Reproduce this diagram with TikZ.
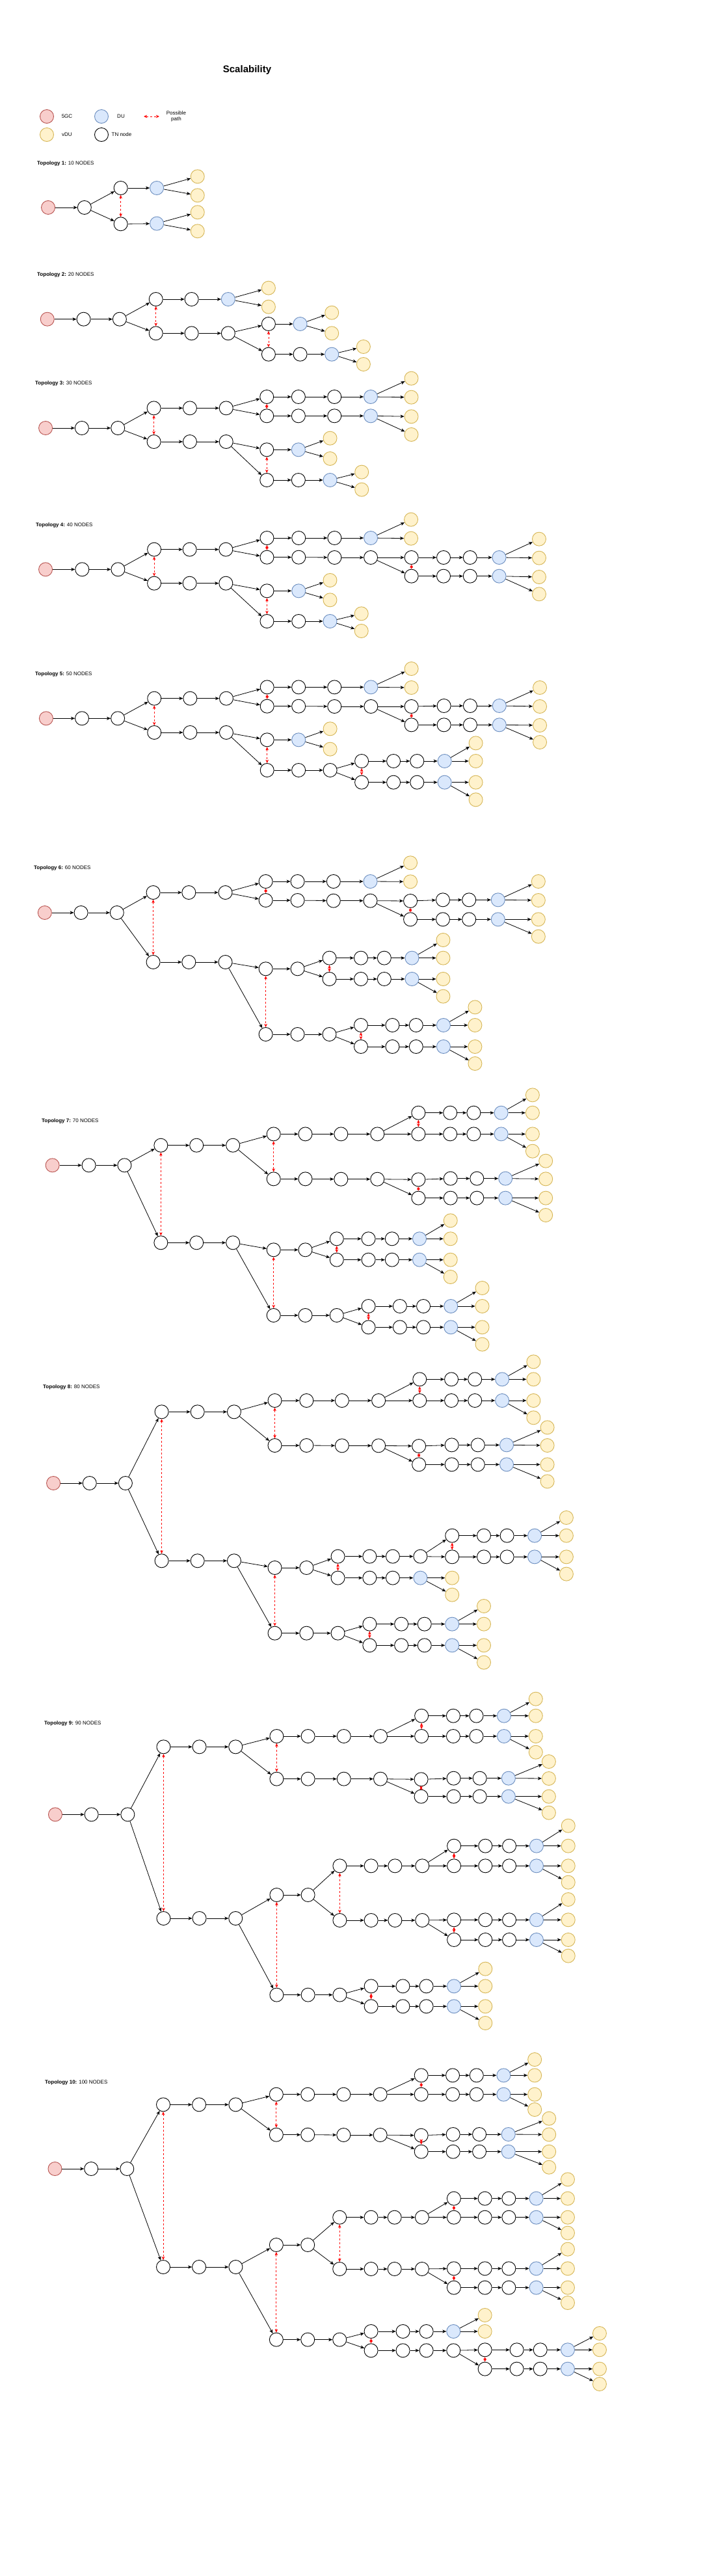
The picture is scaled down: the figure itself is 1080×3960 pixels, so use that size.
\documentclass[tikz,border=0pt]{standalone}
\usepackage{fontspec}
\setmainfont{Liberation Sans}
\usetikzlibrary{arrows.meta}
\definecolor{gcfill}{HTML}{F8CECC}
\definecolor{gcline}{HTML}{B85450}
\definecolor{dufill}{HTML}{DAE8FC}
\definecolor{duline}{HTML}{6C8EBF}
\definecolor{vdfill}{HTML}{FFF2CC}
\definecolor{vdline}{HTML}{D6B656}
\tikzset{
 basenode/.style={circle, minimum size=21pt, inner sep=0pt, line width=0.9pt},
 tnn/.style={basenode, draw=black, fill=white},
 gcn/.style={basenode, draw=gcline, fill=gcfill},
 dun/.style={basenode, draw=duline, fill=dufill},
 vdn/.style={basenode, draw=vdline, fill=vdfill},
 linkarrow/.style={draw=black, line width=0.8pt, -{Stealth[length=6pt,width=5pt,inset=1.5pt]}},
 altpath/.style={draw=red, line width=0.8pt, dash pattern=on 3pt off 3pt, {Stealth[length=5pt,width=4.5pt,inset=1.2pt]}-{Stealth[length=5pt,width=4.5pt,inset=1.2pt]}},
 lbl/.style={font=\fontsize{8}{9.5}\selectfont, inner sep=0pt},
}
\def\tpfx{t0}
\newcommand\nT[3]{\node[tnn] (\tpfx#1) at (#2,#3) {};}
\newcommand\nG[3]{\node[gcn] (\tpfx#1) at (#2,#3) {};}
\newcommand\nD[3]{\node[dun] (\tpfx#1) at (#2,#3) {};}
\newcommand\nV[3]{\node[vdn] (\tpfx#1) at (#2,#3) {};}
\newcommand\links[1]{\foreach \a/\b in {#1} {\draw[linkarrow] (\tpfx\a) -- (\tpfx\b);}}
\newcommand\alts[1]{\foreach \a/\b in {#1} {\draw[altpath] (\tpfx\a) -- (\tpfx\b);}}
\newcommand\branch[1]{\links{#11/#12,#12/#13,#13/#1d,#1d/#1v1,#1d/#1v2}}
\begin{document}
\begin{tikzpicture}[x=1pt,y=-1pt]
\useasboundingbox[fill=white] (0,0) rectangle (1080,3960);
% header and legend
\node[font=\bfseries\fontsize{15}{18}\selectfont, inner sep=0pt] (title) at (380,108) {Scalability};
\node[gcn] (lg5gc) at (72,179) {};
\node[lbl] (lg5gct) at (103,179) {5GC};
\node[dun] (lgdu) at (156,179) {};
\node[lbl] (lgdut) at (186,179) {DU};
\coordinate (lgpa) at (221,179);
\coordinate (lgpb) at (245,179);
\draw[altpath] (lgpa) -- (lgpb);
\node[lbl, align=center] (lgpt) at (271,179) {Possible\\path};
\node[vdn] (lgvdu) at (72,207) {};
\node[lbl] (lgvdut) at (103,207) {vDU};
\node[tnn] (lgtn) at (156,207) {};
\node[lbl] (lgtnt) at (187,207) {TN node};
% labels
\node[lbl, anchor=west] (lab1) at (57,251) {\textbf{Topology 1:} 10 NODES};
\node[lbl, anchor=west] (lab2) at (57,422) {\textbf{Topology 2:} 20 NODES};
\node[lbl, anchor=west] (lab3) at (54,589) {\textbf{Topology 3:} 30 NODES};
\node[lbl, anchor=west] (lab4) at (55,807) {\textbf{Topology 4:} 40 NODES};
\node[lbl, anchor=west] (lab5) at (54,1036) {\textbf{Topology 5:} 50 NODES};
\node[lbl, anchor=west] (lab6) at (52,1334) {\textbf{Topology 6:} 60 NODES};
\node[lbl, anchor=west] (lab7) at (64,1723) {\textbf{Topology 7:} 70 NODES};
\node[lbl, anchor=west] (lab8) at (66,2132) {\textbf{Topology 8:} 80 NODES};
\node[lbl, anchor=west] (lab9) at (68,2649) {\textbf{Topology 9:} 90 NODES};
\node[lbl, anchor=west] (lab10) at (69,3201) {\textbf{Topology 10:} 100 NODES};
% ---------------- Topology 1
\begin{scope}[yshift=-80pt, x=0.3444pt, y=-0.3333pt]
\def\tpfx{t1}
\nG{c}{215}{717}
\nT{a1}{377}{717}
\nT{u1}{539}{627}
\nT{l1}{539}{793}
\nD{ud}{700}{627}
\nD{ld}{700}{791}
\nV{v1}{882}{574}
\nV{v2}{882}{661}
\nV{v3}{882}{739}
\nV{v4}{882}{826}
\links{c/a1,a1/u1,a1/l1,u1/ud,l1/ld,ud/v1,ud/v2,ld/v3,ld/v4}
\alts{u1/l1}
\end{scope}
% ---------------- Topology 2
\begin{scope}[yshift=-380pt, x=0.4464pt, y=-0.3333pt]
\def\tpfx{t2}
\nG{c}{163}{332}
\nT{a1}{288}{332}
\nT{a2}{412}{332}
\nT{u1}{537}{240}
\nT{u2}{660}{240}
\nD{ud}{786}{240}
\nV{uv1}{925}{188}
\nV{uv2}{925}{275}
\nT{l1}{537}{397}
\nT{l2}{660}{397}
\nT{l3}{786}{397}
\nT{m1}{925}{354}
\nD{md}{1034}{354}
\nV{mv1}{1143}{302}
\nV{mv2}{1143}{397}
\nT{n1}{925}{494}
\nT{n2}{1034}{494}
\nD{nd}{1143}{494}
\nV{nv1}{1252}{459}
\nV{nv2}{1252}{540}
\links{c/a1,a1/a2,a2/u1,a2/l1,u1/u2,u2/ud,ud/uv1,ud/uv2,l1/l2,l2/l3,l3/m1,l3/n1,m1/md,md/mv1,md/mv2,n1/n2,n2/nd,nd/nv1,nd/nv2}
\alts{u1/l1,m1/n1}
\end{scope}
% ---------------- Topology 3
\begin{scope}[yshift=-560pt, x=0.4464pt, y=-0.3333pt]
\def\tpfx{t3}
\nG{c}{157}{294}
\nT{a1}{282}{294}
\nT{a2}{406}{294}
\nT{u1}{530}{202}
\nT{u2}{654}{202}
\nT{u3}{779}{202}
\nT{p1}{919}{150}
\nT{p2}{1028}{150}
\nT{p3}{1152}{150}
\nD{pd}{1277}{150}
\nV{pv1}{1417}{65}
\nV{pv2}{1417}{152}
\nT{q1}{919}{238}
\nT{q2}{1028}{238}
\nT{q3}{1152}{238}
\nD{qd}{1277}{238}
\nV{qv1}{1417}{241}
\nV{qv2}{1417}{324}
\nT{l1}{530}{357}
\nT{l2}{654}{357}
\nT{l3}{779}{357}
\nT{m1}{919}{394}
\nD{md}{1028}{394}
\nV{mv1}{1137}{341}
\nV{mv2}{1137}{435}
\nT{n1}{919}{534}
\nT{n2}{1028}{534}
\nD{nd}{1137}{534}
\nV{nv1}{1246}{497}
\nV{nv2}{1246}{578}
\links{c/a1,a1/a2,a2/u1,a2/l1,u1/u2,u2/u3,u3/p1,u3/q1,l1/l2,l2/l3,l3/m1,l3/n1,m1/md,md/mv1,md/mv2,n1/n2,n2/nd,nd/nv1,nd/nv2}
\branch{p}
\branch{q}
\alts{u1/l1,p1/q1,m1/n1}
\end{scope}
% ---------------- Topology 4
\begin{scope}[yshift=-780pt, x=0.5741pt, y=-0.3333pt]
\def\tpfx{t4}
\nG{c}{122}{286}
\nT{a1}{220}{286}
\nT{a2}{316}{286}
\nT{u1}{413}{194}
\nT{u2}{508}{194}
\nT{u3}{605}{194}
\nT{p1}{715}{141}
\nT{p2}{800}{141}
\nT{p3}{896}{141}
\nD{pd}{993}{141}
\nV{pv1}{1101}{56}
\nV{pv2}{1101}{143}
\nT{q1}{715}{230}
\nT{q2}{800}{230}
\nT{q3}{896}{231}
\nT{q4}{993}{231}
\nT{r1}{1102}{231}
\nT{r2}{1188}{231}
\nT{r3}{1259}{231}
\nD{rd}{1337}{231}
\nV{rv1}{1444}{146}
\nV{rv2}{1444}{233}
\nT{s1}{1102}{317}
\nT{s2}{1188}{317}
\nT{s3}{1259}{317}
\nD{sd}{1337}{317}
\nV{sv1}{1444}{321}
\nV{sv2}{1444}{400}
\nT{l1}{413}{350}
\nT{l2}{508}{350}
\nT{l3}{605}{350}
\nT{m1}{715}{385}
\nD{md}{800}{385}
\nV{mv1}{884}{336}
\nV{mv2}{884}{427}
\nT{n1}{715}{525}
\nT{n2}{800}{525}
\nD{nd}{884}{525}
\nV{nv1}{968}{490}
\nV{nv2}{968}{570}
\links{c/a1,a1/a2,a2/u1,a2/l1,u1/u2,u2/u3,u3/p1,u3/q1,q1/q2,q2/q3,q3/q4,q4/r1,q4/s1,l1/l2,l2/l3,l3/m1,l3/n1,m1/md,md/mv1,md/mv2,n1/n2,n2/nd,nd/nv1,nd/nv2}
\branch{p}
\branch{r}
\branch{s}
\alts{u1/l1,p1/q1,r1/s1,m1/n1}
\end{scope}
% ---------------- Topology 5
\begin{scope}[yshift=-1000pt, x=0.5102pt, y=-0.3333pt]
\def\tpfx{t5}
\nG{c}{139}{313}
\nT{a1}{247}{313}
\nT{a2}{355}{313}
\nT{u1}{465}{221}
\nT{u2}{573}{221}
\nT{u3}{682}{221}
\nT{p1}{805}{169}
\nT{p2}{900}{169}
\nT{p3}{1008}{169}
\nD{pd}{1118}{169}
\nV{pv1}{1240}{84}
\nV{pv2}{1240}{171}
\nT{q1}{805}{257}
\nT{q2}{900}{257}
\nT{q3}{1008}{258}
\nT{q4}{1118}{258}
\nT{r1}{1240}{258}
\nT{r2}{1338}{255}
\nT{r3}{1417}{255}
\nD{rd}{1505}{255}
\nV{rv1}{1627}{171}
\nV{rv2}{1627}{258}
\nT{s1}{1240}{343}
\nT{s2}{1338}{343}
\nT{s3}{1417}{343}
\nD{sd}{1505}{343}
\nV{sv1}{1627}{345}
\nV{sv2}{1627}{423}
\nT{l1}{465}{378}
\nT{l2}{573}{378}
\nT{l3}{682}{378}
\nT{m1}{805}{412}
\nD{md}{900}{412}
\nV{mv1}{995}{361}
\nV{mv2}{995}{455}
\nT{n1}{805}{552}
\nT{n2}{900}{552}
\nT{n3}{995}{552}
\nT{o1}{1090}{510}
\nT{o2}{1186}{510}
\nT{o3}{1257}{510}
\nD{od}{1340}{510}
\nV{ov1}{1434}{427}
\nV{ov2}{1434}{510}
\nT{w1}{1090}{608}
\nT{w2}{1186}{608}
\nT{w3}{1257}{608}
\nD{wd}{1340}{608}
\nV{wv1}{1434}{608}
\nV{wv2}{1434}{688}
\links{c/a1,a1/a2,a2/u1,a2/l1,u1/u2,u2/u3,u3/p1,u3/q1,q1/q2,q2/q3,q3/q4,q4/r1,q4/s1,l1/l2,l2/l3,l3/m1,l3/n1,m1/md,md/mv1,md/mv2,n1/n2,n2/n3,n3/o1,n3/w1}
\branch{p}
\branch{r}
\branch{s}
\branch{o}
\branch{w}
\alts{u1/l1,p1/q1,r1/s1,m1/n1,o1/w1}
\end{scope}
% ---------------- Topology 6
\begin{scope}[yshift=-1300pt, x=0.4847pt, y=-0.3333pt]
\def\tpfx{t6}
\nG{c}{142}{309}
\nT{a1}{257}{309}
\nT{a2}{371}{309}
\nT{u1}{486}{216}
\nT{u2}{599}{216}
\nT{u3}{715}{216}
\nT{p1}{843}{165}
\nT{p2}{944}{165}
\nT{p3}{1058}{165}
\nD{pd}{1175}{165}
\nV{pv1}{1302}{79}
\nV{pv2}{1302}{166}
\nT{q1}{843}{252}
\nT{q2}{944}{252}
\nT{q3}{1058}{254}
\nT{q4}{1175}{254}
\nT{r1}{1302}{255}
\nT{r2}{1405}{250}
\nT{r3}{1488}{250}
\nD{rd}{1580}{250}
\nV{rv1}{1708}{165}
\nV{rv2}{1708}{252}
\nT{s1}{1302}{340}
\nT{s2}{1405}{340}
\nT{s3}{1488}{340}
\nD{sd}{1580}{340}
\nV{sv1}{1708}{340}
\nV{sv2}{1708}{419}
\nT{l1}{486}{537}
\nT{l2}{599}{537}
\nT{l3}{715}{537}
\nT{m1}{843}{568}
\nT{m2}{944}{568}
\nT{o1}{1045}{518}
\nT{o2}{1145}{518}
\nT{o3}{1219}{518}
\nD{od}{1307}{518}
\nV{ov1}{1406}{435}
\nV{ov2}{1406}{518}
\nT{w1}{1045}{615}
\nT{w2}{1145}{615}
\nT{w3}{1219}{615}
\nD{wd}{1307}{615}
\nV{wv1}{1406}{615}
\nV{wv2}{1406}{695}
\nT{n1}{843}{870}
\nT{n2}{944}{870}
\nT{n3}{1045}{870}
\nT{x1}{1145}{828}
\nT{x2}{1245}{828}
\nT{x3}{1320}{828}
\nD{xd}{1407}{828}
\nV{xv1}{1507}{745}
\nV{xv2}{1507}{828}
\nT{y1}{1145}{927}
\nT{y2}{1245}{927}
\nT{y3}{1320}{927}
\nD{yd}{1407}{927}
\nV{yv1}{1507}{927}
\nV{yv2}{1507}{1005}
\links{c/a1,a1/a2,a2/u1,a2/l1,u1/u2,u2/u3,u3/p1,u3/q1,q1/q2,q2/q3,q3/q4,q4/r1,q4/s1,l1/l2,l2/l3,l3/m1,l3/n1,m1/m2,m2/o1,m2/w1,n1/n2,n2/n3,n3/x1,n3/y1}
\branch{p}
\branch{r}
\branch{s}
\branch{o}
\branch{w}
\branch{x}
\branch{y}
\alts{u1/l1,p1/q1,r1/s1,m1/n1,o1/w1,x1/y1}
\end{scope}
% ---------------- Topology 7
\begin{scope}[yshift=-1670pt, x=0.5485pt, y=-0.3333pt]
\def\tpfx{t7}
\nG{c}{147}{364}
\nT{a1}{249}{364}
\nT{a2}{349}{364}
\nT{u1}{451}{272}
\nT{u2}{551}{272}
\nT{u3}{653}{272}
\nT{A1}{767}{220}
\nT{A2}{856}{220}
\nT{A3}{956}{220}
\nT{A4}{1058}{220}
\nT{P1}{1173}{122}
\nT{P2}{1262}{122}
\nT{P3}{1328}{122}
\nD{Pd}{1405}{122}
\nV{Pv1}{1493}{40}
\nV{Pv2}{1493}{122}
\nT{Q1}{1173}{220}
\nT{Q2}{1262}{220}
\nT{Q3}{1328}{220}
\nD{Qd}{1405}{220}
\nV{Qv1}{1493}{220}
\nV{Qv2}{1493}{299}
\nT{B1}{767}{427}
\nT{B2}{856}{427}
\nT{B3}{956}{428}
\nT{B4}{1058}{428}
\nT{R1}{1173}{430}
\nT{R2}{1263}{425}
\nT{R3}{1337}{425}
\nD{Rd}{1417}{425}
\nV{Rv1}{1530}{344}
\nV{Rv2}{1530}{427}
\nT{S1}{1173}{515}
\nT{S2}{1263}{515}
\nT{S3}{1337}{515}
\nD{Sd}{1417}{515}
\nV{Sv1}{1530}{515}
\nV{Sv2}{1530}{594}
\nT{l1}{451}{721}
\nT{l2}{551}{721}
\nT{l3}{653}{721}
\nT{m1}{767}{754}
\nT{m2}{856}{754}
\nT{o1}{944}{703}
\nT{o2}{1033}{703}
\nT{o3}{1099}{703}
\nD{od}{1176}{703}
\nV{ov1}{1263}{619}
\nV{ov2}{1263}{703}
\nT{w1}{944}{800}
\nT{w2}{1033}{800}
\nT{w3}{1099}{800}
\nD{wd}{1176}{800}
\nV{wv1}{1263}{800}
\nV{wv2}{1263}{879}
\nT{n1}{767}{1056}
\nT{n2}{856}{1056}
\nT{n3}{944}{1056}
\nT{x1}{1033}{1014}
\nT{x2}{1121}{1014}
\nT{x3}{1187}{1014}
\nD{xd}{1264}{1014}
\nV{xv1}{1352}{930}
\nV{xv2}{1352}{1014}
\nT{y1}{1033}{1111}
\nT{y2}{1121}{1111}
\nT{y3}{1187}{1111}
\nD{yd}{1264}{1111}
\nV{yv1}{1352}{1111}
\nV{yv2}{1352}{1190}
\links{c/a1,a1/a2,a2/u1,a2/l1,u1/u2,u2/u3,u3/A1,u3/B1,A1/A2,A2/A3,A3/A4,A4/P1,A4/Q1,B1/B2,B2/B3,B3/B4,B4/R1,B4/S1,l1/l2,l2/l3,l3/m1,l3/n1,m1/m2,m2/o1,m2/w1,n1/n2,n2/n3,n3/x1,n3/y1}
\branch{P}
\branch{Q}
\branch{R}
\branch{S}
\branch{o}
\branch{w}
\branch{x}
\branch{y}
\alts{u1/l1,A1/B1,P1/Q1,R1/S1,m1/n1,o1/w1,x1/y1}
\end{scope}
% ---------------- Topology 8
\begin{scope}[yshift=-2090pt, x=0.5741pt, y=-0.3333pt]
\def\tpfx{t8}
\nG{c}{143}{570}
\nT{a1}{240}{570}
\nT{a2}{336}{570}
\nT{u1}{433}{241}
\nT{u2}{529}{241}
\nT{u3}{627}{241}
\nT{A1}{736}{189}
\nT{A2}{821}{189}
\nT{A3}{916}{189}
\nT{A4}{1014}{189}
\nT{P1}{1124}{91}
\nT{P2}{1209}{91}
\nT{P3}{1272}{91}
\nD{Pd}{1345}{91}
\nV{Pv1}{1429}{10}
\nV{Pv2}{1429}{91}
\nT{Q1}{1124}{189}
\nT{Q2}{1209}{189}
\nT{Q3}{1272}{189}
\nD{Qd}{1345}{189}
\nV{Qv1}{1429}{189}
\nV{Qv2}{1429}{268}
\nT{B1}{736}{396}
\nT{B2}{821}{396}
\nT{B3}{916}{397}
\nT{B4}{1014}{397}
\nT{R1}{1122}{399}
\nT{R2}{1210}{394}
\nT{R3}{1280}{394}
\nD{Rd}{1357}{394}
\nV{Rv1}{1466}{313}
\nV{Rv2}{1466}{396}
\nT{S1}{1122}{484}
\nT{S2}{1210}{484}
\nT{S3}{1280}{484}
\nD{Sd}{1357}{484}
\nV{Sv1}{1466}{484}
\nV{Sv2}{1466}{562}
\nT{l1}{433}{928}
\nT{l2}{529}{928}
\nT{l3}{627}{928}
\nT{m1}{736}{960}
\nT{m2}{821}{960}
\nT{o1}{905}{908}
\nT{o2}{990}{908}
\nT{o3}{1052}{908}
\nT{o4}{1126}{908}
\nT{T1}{1211}{812}
\nT{T2}{1296}{812}
\nT{T3}{1358}{812}
\nD{Td}{1432}{812}
\nV{Tv1}{1517}{729}
\nV{Tv2}{1517}{812}
\nT{U1}{1211}{910}
\nT{U2}{1296}{910}
\nT{U3}{1358}{910}
\nD{Ud}{1432}{910}
\nV{Uv1}{1517}{910}
\nV{Uv2}{1517}{989}
\nT{w1}{905}{1007}
\nT{w2}{990}{1007}
\nT{w3}{1052}{1007}
\nD{wd}{1126}{1007}
\nV{wv1}{1211}{1007}
\nV{wv2}{1211}{1085}
\nT{n1}{736}{1262}
\nT{n2}{821}{1262}
\nT{n3}{905}{1262}
\nT{x1}{990}{1220}
\nT{x2}{1075}{1220}
\nT{x3}{1137}{1220}
\nD{xd}{1211}{1220}
\nV{xv1}{1296}{1137}
\nV{xv2}{1296}{1220}
\nT{y1}{990}{1318}
\nT{y2}{1075}{1318}
\nT{y3}{1137}{1318}
\nD{yd}{1211}{1318}
\nV{yv1}{1296}{1318}
\nV{yv2}{1296}{1397}
\links{c/a1,a1/a2,a2/u1,a2/l1,u1/u2,u2/u3,u3/A1,u3/B1,A1/A2,A2/A3,A3/A4,A4/P1,A4/Q1,B1/B2,B2/B3,B3/B4,B4/R1,B4/S1,l1/l2,l2/l3,l3/m1,l3/n1,m1/m2,m2/o1,m2/w1,o1/o2,o2/o3,o3/o4,o4/T1,o4/U1,n1/n2,n2/n3,n3/x1,n3/y1}
\branch{P}
\branch{Q}
\branch{R}
\branch{S}
\branch{T}
\branch{U}
\branch{w}
\branch{x}
\branch{y}
\alts{u1/l1,A1/B1,P1/Q1,R1/S1,m1/n1,o1/w1,T1/U1,x1/y1}
\end{scope}
% ---------------- Topology 9
\begin{scope}[yshift=-2590pt, x=0.5741pt, y=-0.3333pt]
\def\tpfx{t9}
\nG{c}{148}{598}
\nT{a1}{245}{598}
\nT{a2}{342}{598}
\nT{u1}{438}{286}
\nT{u2}{534}{286}
\nT{u3}{631}{286}
\nT{A1}{741}{237}
\nT{A2}{825}{237}
\nT{A3}{921}{237}
\nT{A4}{1019}{237}
\nT{P1}{1129}{143}
\nT{P2}{1214}{143}
\nT{P3}{1276}{143}
\nD{Pd}{1350}{143}
\nV{Pv1}{1435}{65}
\nV{Pv2}{1435}{143}
\nT{Q1}{1129}{237}
\nT{Q2}{1214}{237}
\nT{Q3}{1276}{237}
\nD{Qd}{1350}{237}
\nV{Qv1}{1435}{237}
\nV{Qv2}{1435}{311}
\nT{B1}{741}{434}
\nT{B2}{825}{434}
\nT{B3}{921}{434}
\nT{B4}{1019}{434}
\nT{R1}{1128}{436}
\nT{R2}{1215}{431}
\nT{R3}{1285}{431}
\nD{Rd}{1362}{431}
\nV{Rv1}{1470}{354}
\nV{Rv2}{1470}{432}
\nT{S1}{1128}{515}
\nT{S2}{1215}{515}
\nT{S3}{1285}{515}
\nD{Sd}{1362}{515}
\nV{Sv1}{1470}{515}
\nV{Sv2}{1470}{590}
\nT{l1}{438}{1077}
\nT{l2}{534}{1077}
\nT{l3}{631}{1077}
\nT{m1}{741}{969}
\nT{m2}{825}{969}
\nT{M1}{910}{835}
\nT{M2}{994}{835}
\nT{M3}{1058}{835}
\nT{M4}{1131}{835}
\nT{T1}{1216}{743}
\nT{T2}{1300}{743}
\nT{T3}{1364}{743}
\nD{Td}{1437}{743}
\nV{Tv1}{1522}{650}
\nV{Tv2}{1522}{743}
\nT{U1}{1216}{835}
\nT{U2}{1300}{835}
\nT{U3}{1364}{835}
\nD{Ud}{1437}{835}
\nV{Uv1}{1522}{835}
\nV{Uv2}{1522}{911}
\nT{N1}{910}{1086}
\nT{N2}{994}{1086}
\nT{N3}{1058}{1086}
\nT{N4}{1131}{1086}
\nT{V1}{1216}{1084}
\nT{V2}{1300}{1084}
\nT{V3}{1364}{1084}
\nD{Vd}{1437}{1084}
\nV{Vv1}{1522}{990}
\nV{Vv2}{1522}{1084}
\nT{W1}{1216}{1176}
\nT{W2}{1300}{1176}
\nT{W3}{1364}{1176}
\nD{Wd}{1437}{1176}
\nV{Wv1}{1522}{1176}
\nV{Wv2}{1522}{1250}
\nT{n1}{741}{1430}
\nT{n2}{825}{1430}
\nT{n3}{910}{1430}
\nT{x1}{994}{1390}
\nT{x2}{1079}{1390}
\nT{x3}{1142}{1390}
\nD{xd}{1216}{1390}
\nV{xv1}{1300}{1310}
\nV{xv2}{1300}{1390}
\nT{y1}{994}{1483}
\nT{y2}{1079}{1483}
\nT{y3}{1142}{1483}
\nD{yd}{1216}{1483}
\nV{yv1}{1300}{1483}
\nV{yv2}{1300}{1560}
\links{c/a1,a1/a2,a2/u1,a2/l1,u1/u2,u2/u3,u3/A1,u3/B1,A1/A2,A2/A3,A3/A4,A4/P1,A4/Q1,B1/B2,B2/B3,B3/B4,B4/R1,B4/S1,l1/l2,l2/l3,l3/m1,l3/n1,m1/m2,m2/M1,m2/N1,M1/M2,M2/M3,M3/M4,M4/T1,M4/U1,N1/N2,N2/N3,N3/N4,N4/V1,N4/W1,n1/n2,n2/n3,n3/x1,n3/y1}
\branch{P}
\branch{Q}
\branch{R}
\branch{S}
\branch{T}
\branch{U}
\branch{V}
\branch{W}
\branch{x}
\branch{y}
\alts{u1/l1,A1/B1,P1/Q1,R1/S1,m1/n1,M1/N1,T1/U1,V1/W1,x1/y1}
\end{scope}
% ---------------- Topology 10
\begin{scope}[yshift=-3160pt, x=0.6122pt, y=-0.3333pt]
\def\tpfx{t10}
\nG{c}{138}{522}
\nT{a1}{229}{522}
\nT{a2}{319}{522}
\nT{u1}{410}{226}
\nT{u2}{500}{226}
\nT{u3}{592}{226}
\nT{A1}{694}{179}
\nT{A2}{773}{179}
\nT{A3}{863}{179}
\nT{A4}{955}{179}
\nT{P1}{1058}{91}
\nT{P2}{1137}{91}
\nT{P3}{1197}{91}
\nD{Pd}{1265}{91}
\nV{Pv1}{1343}{18}
\nV{Pv2}{1343}{91}
\nT{Q1}{1058}{179}
\nT{Q2}{1137}{179}
\nT{Q3}{1197}{179}
\nD{Qd}{1265}{179}
\nV{Qv1}{1343}{179}
\nV{Qv2}{1343}{249}
\nT{B1}{694}{365}
\nT{B2}{773}{365}
\nT{B3}{863}{366}
\nT{B4}{955}{366}
\nT{R1}{1058}{368}
\nT{R2}{1138}{363}
\nT{R3}{1204}{363}
\nD{Rd}{1277}{363}
\nV{Rv1}{1379}{290}
\nV{Rv2}{1379}{364}
\nT{S1}{1058}{443}
\nT{S2}{1138}{443}
\nT{S3}{1204}{443}
\nD{Sd}{1277}{443}
\nV{Sv1}{1379}{443}
\nV{Sv2}{1379}{515}
\nT{l1}{410}{975}
\nT{l2}{500}{975}
\nT{l3}{592}{975}
\nT{m1}{694}{873}
\nT{m2}{773}{873}
\nT{M1}{853}{746}
\nT{M2}{932}{746}
\nT{M3}{991}{746}
\nT{M4}{1060}{746}
\nT{T1}{1140}{659}
\nT{T2}{1218}{659}
\nT{T3}{1278}{659}
\nD{Td}{1347}{659}
\nV{Tv1}{1426}{571}
\nV{Tv2}{1426}{659}
\nT{U1}{1140}{746}
\nT{U2}{1218}{746}
\nT{U3}{1278}{746}
\nD{Ud}{1347}{746}
\nV{Uv1}{1426}{746}
\nV{Uv2}{1426}{818}
\nT{N1}{853}{984}
\nT{N2}{932}{984}
\nT{N3}{991}{984}
\nT{N4}{1060}{984}
\nT{V1}{1140}{982}
\nT{V2}{1218}{982}
\nT{V3}{1278}{982}
\nD{Vd}{1347}{982}
\nV{Vv1}{1426}{893}
\nV{Vv2}{1426}{982}
\nT{W1}{1140}{1070}
\nT{W2}{1218}{1070}
\nT{W3}{1278}{1070}
\nD{Wd}{1347}{1070}
\nV{Wv1}{1426}{1070}
\nV{Wv2}{1426}{1140}
\nT{n1}{694}{1310}
\nT{n2}{773}{1310}
\nT{n3}{853}{1310}
\nT{x1}{932}{1272}
\nT{x2}{1012}{1272}
\nT{x3}{1071}{1272}
\nD{xd}{1139}{1272}
\nV{xv1}{1218}{1197}
\nV{xv2}{1218}{1272}
\nT{y1}{932}{1360}
\nT{y2}{1012}{1360}
\nT{y3}{1071}{1360}
\nT{y4}{1139}{1360}
\nT{Y1}{1218}{1357}
\nT{Y2}{1298}{1357}
\nT{Y3}{1357}{1357}
\nD{Yd}{1426}{1357}
\nV{Yv1}{1506}{1281}
\nV{Yv2}{1506}{1357}
\nT{Z1}{1218}{1445}
\nT{Z2}{1298}{1445}
\nT{Z3}{1357}{1445}
\nD{Zd}{1426}{1445}
\nV{Zv1}{1506}{1445}
\nV{Zv2}{1506}{1515}
\links{c/a1,a1/a2,a2/u1,a2/l1,u1/u2,u2/u3,u3/A1,u3/B1,A1/A2,A2/A3,A3/A4,A4/P1,A4/Q1,B1/B2,B2/B3,B3/B4,B4/R1,B4/S1,l1/l2,l2/l3,l3/m1,l3/n1,m1/m2,m2/M1,m2/N1,M1/M2,M2/M3,M3/M4,M4/T1,M4/U1,N1/N2,N2/N3,N3/N4,N4/V1,N4/W1,n1/n2,n2/n3,n3/x1,n3/y1,y1/y2,y2/y3,y3/y4,y4/Y1,y4/Z1}
\branch{P}
\branch{Q}
\branch{R}
\branch{S}
\branch{T}
\branch{U}
\branch{V}
\branch{W}
\branch{x}
\branch{Y}
\branch{Z}
\alts{u1/l1,A1/B1,P1/Q1,R1/S1,m1/n1,M1/N1,T1/U1,V1/W1,x1/y1,Y1/Z1}
\end{scope}
\end{tikzpicture}
\end{document}
